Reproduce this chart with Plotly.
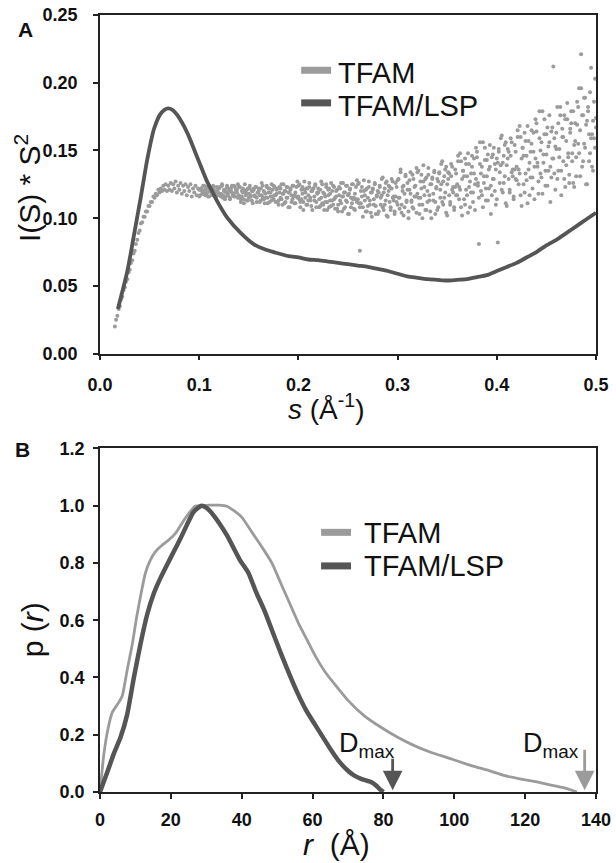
import plotly.graph_objects as go

# ---------------- Panel A: Kratky plot ----------------
series_names = ["TFAM", "TFAM/LSP"]

# TFAM, low-s part (dense rising curve)
s_tfam_low = [
    .0150, .0162, .0175, .0188, .0200, .0212, .0225, .0238, .0250, .0262, .0275, .0288, .0300, .0312, .0325, .0338, .0350,
    .0362, .0375, .0388, .0400, .0412, .0425, .0438, .0450, .0462, .0475, .0488, .0500, .0512, .0525, .0538, .0550, .0562,
    .0575, .0588, .0600, .0612, .0625, .0638, .0650, .0662, .0675, .0688, .0700, .0712, .0725, .0738, .0750, .0762, .0775,
    .0788, .0800, .0812, .0825, .0838, .0850, .0862, .0875, .0888, .0900, .0912, .0925, .0938, .0950, .0962, .0975, .0988,
]
i_tfam_low = [
    .020, .025, .028, .033, .035, .040, .042, .047, .049, .053, .055, .060, .062, .067, .069, .074, .076,
    .081, .084, .089, .091, .096, .097, .101, .101, .105, .105, .109, .109, .112, .112, .116, .115, .118,
    .117, .121, .119, .122, .120, .124, .121, .125, .120, .124, .121, .126, .120, .125, .122, .127, .119,
    .124, .121, .126, .118, .124, .120, .125, .117, .123, .120, .125, .116, .122, .119, .124, .117, .122,
]

# TFAM, noisy part: two scattered readings per s value
s_tfam_noisy = [
    .100, .101, .102, .103, .104, .105, .106, .107, .108, .109, .110, .111, .112, .113, .114, .115, .116, .117, .118, .119,
    .120, .121, .122, .123, .124, .125, .126, .127, .128, .129, .130, .131, .132, .133, .134, .135, .136, .137, .138, .139,
    .140, .141, .142, .143, .144, .145, .146, .147, .148, .149, .150, .151, .152, .153, .154, .155, .156, .157, .158, .159,
    .160, .161, .162, .163, .164, .165, .166, .167, .168, .169, .170, .171, .172, .173, .174, .175, .176, .177, .178, .179,
    .180, .181, .182, .183, .184, .185, .186, .187, .188, .189, .190, .191, .192, .193, .194, .195, .196, .197, .198, .199,
    .200, .201, .202, .203, .204, .205, .206, .207, .208, .209, .210, .211, .212, .213, .214, .215, .216, .217, .218, .219,
    .220, .221, .222, .223, .224, .225, .226, .227, .228, .229, .230, .231, .232, .233, .234, .235, .236, .237, .238, .239,
    .240, .241, .242, .243, .244, .245, .246, .247, .248, .249, .250, .251, .252, .253, .254, .255, .256, .257, .258, .259,
    .260, .261, .262, .263, .264, .265, .266, .267, .268, .269, .270, .271, .272, .273, .274, .275, .276, .277, .278, .279,
    .280, .281, .282, .283, .284, .285, .286, .287, .288, .289, .290, .291, .292, .293, .294, .295, .296, .297, .298, .299,
    .300, .301, .302, .303, .304, .305, .306, .307, .308, .309, .310, .311, .312, .313, .314, .315, .316, .317, .318, .319,
    .320, .321, .322, .323, .324, .325, .326, .327, .328, .329, .330, .331, .332, .333, .334, .335, .336, .337, .338, .339,
    .340, .341, .342, .343, .344, .345, .346, .347, .348, .349, .350, .351, .352, .353, .354, .355, .356, .357, .358, .359,
    .360, .361, .362, .363, .364, .365, .366, .367, .368, .369, .370, .371, .372, .373, .374, .375, .376, .377, .378, .379,
    .380, .381, .382, .383, .384, .385, .386, .387, .388, .389, .390, .391, .392, .393, .394, .395, .396, .397, .398, .399,
    .400, .401, .402, .403, .404, .405, .406, .407, .408, .409, .410, .411, .412, .413, .414, .415, .416, .417, .418, .419,
    .420, .421, .422, .423, .424, .425, .426, .427, .428, .429, .430, .431, .432, .433, .434, .435, .436, .437, .438, .439,
    .440, .441, .442, .443, .444, .445, .446, .447, .448, .449, .450, .451, .452, .453, .454, .455, .456, .457, .458, .459,
    .460, .461, .462, .463, .464, .465, .466, .467, .468, .469, .470, .471, .472, .473, .474, .475, .476, .477, .478, .479,
    .480, .481, .482, .483, .484, .485, .486, .487, .488, .489, .490, .491, .492, .493, .494, .495, .496, .497, .498, .499,
    .500,
]
i_tfam_a = [
    .121, .117, .122, .120, .124, .118, .121, .118, .123, .116, .120, .122, .119, .117, .122, .123, .119, .116, .120, .122,
    .117, .123, .118, .124, .115, .120, .121, .116, .123, .118, .120, .114, .122, .119, .117, .124, .116, .121, .119, .125,
    .123, .116, .112, .120, .119, .114, .125, .117, .121, .113, .118, .122, .116, .120, .111, .122, .117, .123, .115, .119,
    .120, .112, .122, .117, .124, .114, .119, .115, .123, .111, .119, .122, .116, .113, .121, .124, .117, .112, .118, .122,
    .113, .123, .115, .125, .110, .118, .120, .112, .123, .115, .119, .108, .122, .117, .114, .124, .111, .119, .116, .127,
    .124, .114, .108, .121, .118, .112, .127, .115, .122, .110, .117, .123, .113, .120, .106, .122, .116, .125, .112, .119,
    .119, .108, .121, .115, .125, .110, .118, .112, .123, .106, .117, .122, .113, .109, .120, .124, .114, .107, .116, .121,
    .110, .123, .113, .126, .105, .116, .119, .108, .124, .112, .117, .103, .122, .115, .111, .125, .107, .118, .114, .128,
    .125, .111, .076, .120, .116, .108, .128, .113, .121, .105, .115, .123, .110, .119, .101, .122, .114, .126, .109, .117,
    .120, .105, .123, .115, .129, .108, .119, .110, .126, .102, .117, .124, .112, .106, .122, .127, .113, .103, .116, .123,
    .110, .129, .115, .134, .104, .120, .124, .108, .131, .113, .121, .100, .128, .118, .112, .132, .107, .123, .116, .137,
    .134, .115, .103, .127, .122, .110, .139, .117, .129, .106, .120, .132, .113, .125, .100, .130, .118, .135, .112, .123,
    .129, .108, .133, .121, .140, .112, .127, .115, .136, .104, .125, .134, .117, .110, .131, .138, .119, .106, .123, .133,
    .117, .142, .123, .148, .108, .129, .135, .114, .144, .121, .131, .104, .140, .127, .119, .146, .112, .133, .125, .152,
    .149, .124, .081, .140, .133, .117, .156, .126, .143, .113, .131, .147, .122, .138, .103, .145, .129, .152, .120, .136,
    .144, .082, .149, .134, .159, .121, .141, .126, .154, .111, .139, .151, .129, .119, .146, .156, .131, .114, .136, .149,
    .128, .160, .136, .168, .117, .144, .152, .125, .163, .133, .146, .111, .157, .141, .130, .165, .122, .149, .138, .173,
    .170, .138, .118, .159, .150, .130, .179, .141, .162, .124, .147, .167, .135, .156, .112, .164, .144, .212, .133, .153,
    .163, .129, .170, .151, .182, .135, .160, .142, .176, .123, .157, .173, .145, .132, .166, .179, .148, .126, .154, .170,
    .145, .186, .155, .196, .131, .221, .176, .142, .189, .152, .169, .125, .182, .162, .148, .211, .138, .172, .159, .203,
    .167,
]
i_tfam_b = [
    .116, .121, .122, .118, .120, .124, .117, .122, .119, .123, .116, .121, .122, .118, .124, .120, .120, .117, .123, .119,
    .122, .118, .116, .125, .117, .121, .114, .119, .124, .117, .122, .115, .120, .124, .118, .116, .123, .119, .121, .115,
    .117, .123, .114, .116, .122, .111, .120, .119, .113, .122, .115, .124, .117, .113, .120, .121, .116, .123, .112, .119,
    .122, .117, .113, .126, .115, .120, .111, .118, .124, .115, .122, .112, .119, .125, .116, .114, .123, .117, .121, .112,
    .110, .119, .122, .114, .118, .125, .111, .120, .115, .123, .108, .119, .121, .112, .124, .116, .117, .111, .123, .115,
    .116, .125, .112, .114, .123, .106, .121, .119, .110, .122, .113, .126, .115, .109, .120, .122, .113, .124, .108, .118,
    .122, .114, .109, .127, .111, .119, .106, .116, .125, .112, .121, .108, .118, .126, .113, .110, .123, .115, .120, .107,
    .105, .117, .122, .111, .116, .126, .107, .119, .113, .124, .103, .118, .121, .108, .125, .114, .115, .106, .123, .112,
    .114, .126, .108, .111, .123, .101, .120, .117, .105, .122, .109, .127, .113, .104, .119, .121, .110, .125, .103, .116,
    .103, .119, .124, .110, .117, .130, .106, .122, .113, .127, .101, .120, .123, .108, .129, .115, .116, .105, .126, .112,
    .128, .115, .107, .136, .110, .123, .102, .118, .132, .112, .126, .105, .121, .134, .113, .108, .129, .116, .124, .104,
    .118, .135, .110, .115, .132, .100, .127, .123, .106, .130, .112, .137, .117, .105, .125, .129, .113, .134, .103, .122,
    .106, .127, .134, .115, .125, .142, .110, .131, .119, .138, .102, .129, .133, .112, .140, .121, .123, .108, .136, .117,
    .125, .146, .114, .121, .142, .102, .135, .131, .110, .140, .117, .148, .123, .108, .133, .138, .119, .144, .106, .129,
    .145, .126, .115, .156, .120, .138, .108, .131, .152, .122, .143, .113, .136, .154, .124, .117, .147, .129, .140, .110,
    .114, .141, .151, .126, .139, .161, .119, .146, .131, .156, .109, .144, .149, .121, .159, .134, .136, .116, .154, .129,
    .138, .165, .125, .133, .160, .109, .152, .146, .119, .157, .128, .168, .136, .117, .149, .155, .130, .163, .114, .144,
    .164, .141, .127, .179, .133, .156, .118, .147, .173, .135, .162, .124, .153, .176, .138, .130, .167, .144, .159, .121,
    .151, .182, .135, .145, .176, .117, .166, .160, .129, .173, .139, .185, .148, .126, .163, .170, .142, .179, .123, .157,
    .131, .169, .182, .148, .165, .196, .138, .176, .155, .189, .125, .172, .179, .142, .193, .159, .162, .135, .186, .152,
    .174,
]

s_lsp = [.018, .0276, .0343, .041, .0478, .0545, .061, .065, .0687, .073, .078, .088, .098, .108, .113, .1185,
         .1286, .142, .1556, .166, .176, .19, .2, .21, .22, .23, .24, .25, .26, .27, .28, .29, .3, .31, .32, .33,
         .34, .35, .36, .37, .38, .39, .4, .41, .42, .43, .44, .45, .46, .47, .48, .49, .5]
i_lsp = [.033, .061, .0878, .115, .144, .166, .177, .180, .181, .180, .176, .163, .145, .127, .120, .112,
         .100, .089, .0805, .077, .0748, .072, .071, .0695, .069, .068, .067, .066, .065, .064, .0625, .061, .059,
         .057, .056, .055, .0545, .054, .0545, .055, .0565, .058, .061, .064, .067, .071, .075, .080, .084, .089,
         .094, .099, .104]

a_xticks = [0.0, 0.1, 0.2, 0.3, 0.4, 0.5]
a_yticks = [0.00, 0.05, 0.10, 0.15, 0.20, 0.25]

# ---------------- Panel B: pair distance distribution ----------------
r_tfam = [0, 1.1, 2.25, 3.46, 5.3, 6.3, 7.7, 9.1, 10.3, 11.6, 12.8, 14.2, 15.6, 17.5, 19.4, 21.3, 23.1, 25, 26.9,
          28.3, 31, 33.5, 35.8, 37.5, 40, 43, 46, 48.5, 51, 53.5, 56, 58.5, 61, 63.5, 66, 70, 74.6, 79.3, 84, 88.7,
          93.3, 98, 104.6, 110, 114, 118.5, 123.3, 127, 130.8, 133, 134.6]
p_tfam = [0, .133, .220, .278, .313, .336, .428, .515, .608, .694, .764, .810, .839, .862, .880, .903, .938, .972,
          .999, 1.0, 1.002, 1.002, .998, .985, .96, .905, .85, .80, .73, .66, .59, .53, .47, .42, .38, .32, .266,
          .226, .191, .162, .139, .120, .093, .074, .058, .046, .035, .025, .015, .007, 0]

r_lsp = [0, 2.05, 3.9, 5.8, 7.7, 9.55, 11.4, 13.3, 15.2, 17.05, 18.9, 20.8, 22.7, 24.5, 26.4, 28.7, 30.3, 32, 35.8,
         39.5, 41.9, 44, 46.5, 49, 51.2, 53.5, 55.9, 58.2, 60.6, 63, 65.3, 67.6, 69.9, 71.8, 73.7, 76.5, 78, 78.8, 80]
p_lsp = [0, .069, .134, .191, .272, .399, .515, .619, .694, .747, .793, .839, .885, .932, .978, 1.0, .99, .967, .897,
         .81, .765, .70, .631, .55, .48, .41, .342, .285, .237, .19, .145, .105, .075, .057, .046, .035, .022, .012, 0]

dmax_values = [82.6, 136.8]          # TFAM/LSP, TFAM
dmax_label = "D<sub>max</sub>"

b_xticks = [0, 20, 40, 60, 80, 100, 120, 140]
b_yticks = [0.0, 0.2, 0.4, 0.6, 0.8, 1.0, 1.2]

# ---------------- styling ----------------
LIGHT = "#9b9b9b"
DARK = "#555555"
AXC = "#222222"
FONT = "Liberation Sans, Arial, sans-serif"

W, H = 616, 863
ML, MR, MT, MB = 100, 18, 5, 71
PW = W - ML - MR
PH = H - MT - MB


def px(x):
    return (x - ML) / PW


def py(y):
    return (H - MB - y) / PH


top_dom = [py(348), py(MT)]
bot_dom = [0, py(444)]

fig = go.Figure()

mk = dict(color=LIGHT, size=4, line=dict(width=0))
fig.add_trace(go.Scatter(x=s_tfam_low, y=i_tfam_low, mode="markers", name=series_names[0],
                         marker=mk, xaxis="x", yaxis="y"))
fig.add_trace(go.Scatter(x=s_tfam_noisy, y=i_tfam_a, mode="markers", name=series_names[0],
                         marker=mk, xaxis="x", yaxis="y"))
fig.add_trace(go.Scatter(x=s_tfam_noisy, y=i_tfam_b, mode="markers", name=series_names[0],
                         marker=mk, xaxis="x", yaxis="y"))
fig.add_trace(go.Scatter(x=s_lsp, y=i_lsp, mode="lines", name=series_names[1],
                         line=dict(color=DARK, width=3.8, shape="spline", smoothing=0.7),
                         xaxis="x", yaxis="y"))
fig.add_trace(go.Scatter(x=r_tfam, y=p_tfam, mode="lines", name=series_names[0],
                         line=dict(color=LIGHT, width=2.8, shape="spline", smoothing=0.5),
                         xaxis="x2", yaxis="y2"))
fig.add_trace(go.Scatter(x=r_lsp, y=p_lsp, mode="lines", name=series_names[1],
                         line=dict(color=DARK, width=4.5, shape="spline", smoothing=0.5),
                         xaxis="x2", yaxis="y2"))

tickfont = dict(family=FONT, size=18, color="#111")
common = dict(showline=True, mirror=True, linecolor=AXC, linewidth=1.5, ticks="outside",
              ticklen=5, tickwidth=1.5, tickcolor=AXC, showgrid=False, zeroline=False,
              tickfont=tickfont)


def bold(labels):
    return ["<b>" + t + "</b>" for t in labels]


fig.update_layout(
    width=W, height=H,
    margin=dict(l=ML, r=MR, t=MT, b=MB),
    paper_bgcolor="white", plot_bgcolor="white",
    showlegend=False,
    font=dict(family=FONT, color="#111"),
    xaxis=dict(domain=[0, 1], anchor="y", range=[0, 0.5], tickvals=a_xticks,
               ticktext=bold([f"{v:.1f}" for v in a_xticks]), ticklabelstandoff=9, **common),
    yaxis=dict(domain=top_dom, anchor="x", range=[0, 0.25], tickvals=a_yticks,
               ticktext=bold([f"{v:.2f}" for v in a_yticks]), ticklabelstandoff=12, **common),
    xaxis2=dict(domain=[0, 1], anchor="y2", range=[0, 140], tickvals=b_xticks,
                ticktext=bold([str(v) for v in b_xticks]), ticklabelstandoff=6, **common),
    yaxis2=dict(domain=bot_dom, anchor="x2", range=[0, 1.2], tickvals=b_yticks,
                ticktext=bold([f"{v:.1f}" for v in b_yticks]), ticklabelstandoff=5, **common),
)


def txt(text, x, y, size, angle=0, xa="center", ya="middle"):
    return dict(text=text, x=px(x), y=py(y), xref="paper", yref="paper", xanchor=xa, yanchor=ya,
                textangle=angle, showarrow=False, font=dict(size=size, family=FONT, color="#111"))


ann = [
    txt("<b>A</b>", 25, 20, 21),
    txt("<b>B</b>", 22.5, 445, 21),
    txt("<i>s</i> (Å<sup>-1</sup>)", 327, 402, 28),
    txt("I(S) * S<sup>2</sup>", 27, 180, 30, angle=-90),
    txt("<i>r</i>  (Å)", 337, 845, 30),
    txt("p (<i>r</i>)", 32, 628, 30, angle=-90),
]

# legends (drawn manually, one per panel)
shapes = []
legend_rows = [
    (302, 332, [61, 94], [64, 97], 337),
    (322, 352, [529, 563], [530, 563], 363),
]
for x0, x1, ylines, ytexts, xt in legend_rows:
    for k, (yl, yt) in enumerate(zip(ylines, ytexts)):
        col = LIGHT if k == 0 else DARK
        shapes.append(dict(type="line", xref="paper", yref="paper", x0=px(x0), x1=px(x1),
                           y0=py(yl), y1=py(yl), line=dict(color=col, width=7)))
        ann.append(txt(series_names[k], xt, yt, 29, xa="left"))

# Dmax arrows and labels
for dval, col, alen, xr in [(dmax_values[0], DARK, 33, 398), (dmax_values[1], LIGHT, 42, 583)]:
    ann.append(dict(text="", x=dval, y=0.006, xref="x2", yref="y2", ax=0, ay=-alen,
                    showarrow=True, arrowhead=2, arrowsize=1.4, arrowwidth=2.8, arrowcolor=col))
    ann.append(txt(dmax_label, xr, 744, 27, xa="right"))

fig.update_layout(annotations=ann, shapes=shapes)
fig.write_html("out.html", config={"displayModeBar": False},
               post_script="document.body.style.margin='0px';document.body.style.overflow='hidden';")
